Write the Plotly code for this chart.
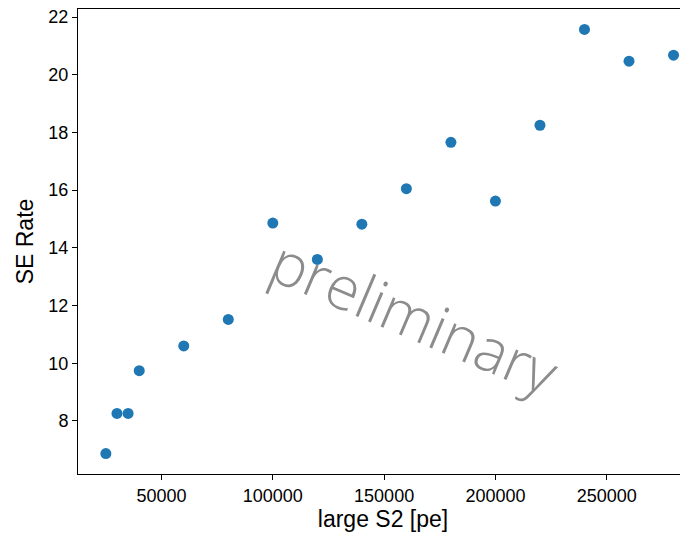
import plotly.graph_objects as go

large_s2 = [25000, 30000, 35000, 40000, 60000, 80000, 100000, 120000, 140000,
            160000, 180000, 200000, 220000, 240000, 260000, 280000]
se_rate = [6.87, 8.26, 8.26, 9.74, 10.60, 11.52, 14.86, 13.60, 14.82,
           16.05, 17.66, 15.62, 18.25, 21.57, 20.47, 20.68]

x_ticks = [50000, 100000, 150000, 200000, 250000]
y_ticks = [8, 10, 12, 14, 16, 18, 20, 22]

tick_font = dict(family="Liberation Sans, sans-serif", size=18, color="black")
title_font = dict(family="Liberation Sans, sans-serif", size=23, color="black")

fig = go.Figure(go.Scatter(
    x=large_s2, y=se_rate, mode="markers",
    marker=dict(color="#1f77b4", size=11, line=dict(width=0)),
))

# page body has an 8px margin, so the figure is 8px smaller than the window
fig.update_layout(
    width=680, height=526,
    margin=dict(l=70, r=0, t=1, b=60, autoexpand=False),
    plot_bgcolor="white", paper_bgcolor="white",
    showlegend=False,
    xaxis=dict(
        range=[12490, 286500], tickvals=x_ticks, ticktext=[str(v) for v in x_ticks],
        showgrid=False, zeroline=False, showline=True, linecolor="black", linewidth=1,
        mirror=True, ticks="outside", ticklen=5, tickcolor="black", tickfont=tick_font,
        automargin=False, ticklabeloverflow="allow",
        title=dict(text="large S2 [pe]", font=title_font, standoff=2),
    ),
    yaxis=dict(
        range=[6.16, 22.28], tickvals=y_ticks,
        showgrid=False, zeroline=False, showline=True, linecolor="black", linewidth=1,
        mirror=False, ticks="outside", ticklen=5, tickcolor="black", tickfont=tick_font,
        automargin=False, ticklabeloverflow="allow",
        title=dict(text="SE Rate", font=title_font, standoff=8),
    ),
    annotations=[dict(
        text="preliminary", xref="paper", yref="paper", x=0.552, y=0.34,
        xanchor="center", yanchor="middle", showarrow=False, textangle=23,
        font=dict(family="Open Sans, sans-serif", size=60, color="#8c8c8c", weight=300),
    )],
)

fig.write_html("out.html")
